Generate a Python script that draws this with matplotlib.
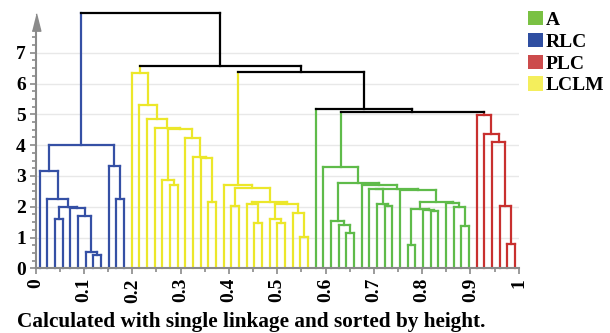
import numpy as np
import matplotlib
matplotlib.use("Agg")
import matplotlib.pyplot as plt
from matplotlib.patches import Patch

# cluster layout in leaf order (left to right)
cluster_names = ["RLC", "LCLM", "A", "PLC"]
cluster_sizes = [12, 24, 21, 6]
line_colors = {"RLC": "#3550a5", "LCLM": "#ece72a", "A": "#5fbb4a", "PLC": "#c8302f"}
legend_colors = {"A": "#7ac143", "RLC": "#2f4ea1", "PLC": "#cc4b4c", "LCLM": "#f4ee5c"}
legend_order = ["A", "RLC", "PLC", "LCLM"]

# merges: (node, left, right, height); ints are leaves, strings are nodes
rlc_merges = [
    ("r1", 7, 8, 0.42),
    ("r2", 6, "r1", 0.52),
    ("r3", 5, "r2", 1.70),
    ("r4", 2, 3, 1.60),
    ("r5", 4, "r3", 1.97),
    ("r6", "r4", "r5", 1.98),
    ("r7", 1, "r6", 2.24),
    ("r8", 0, "r7", 3.17),
    ("r9", 10, 11, 2.24),
    ("r10", 9, "r9", 3.32),
    ("RLC", "r8", "r10", 4.00),
]
lclm1_merges = [
    ("y1", 22, 23, 2.14),
    ("y2", 21, "y1", 3.59),
    ("y3", 20, "y2", 3.62),
    ("y4", 19, "y3", 4.24),
    ("y5", 17, 18, 2.70),
    ("y6", 16, "y5", 2.87),
    ("y7", "y6", "y4", 4.51),
    ("y8", 15, "y7", 4.56),
    ("y9", 14, "y8", 4.84),
    ("y10", 13, "y9", 5.30),
    ("LCLM1", 12, "y10", 6.33),
]
lclm2_merges = [
    ("z1", 25, 26, 2.02),
    ("z2", 28, 29, 1.46),
    ("z3", 27, "z2", 2.09),
    ("z4", 31, 32, 1.46),
    ("z5", 30, "z4", 1.59),
    ("z6", 34, 35, 1.03),
    ("z7", 33, "z6", 1.81),
    ("z8", "z5", "z7", 2.09),
    ("z9", "z3", "z8", 2.16),
    ("z10", "z1", "z9", 2.60),
    ("LCLM2", 24, "z10", 2.70),
]
a_merges = [
    ("g1", 40, 41, 1.14),
    ("g2", 39, "g1", 1.41),
    ("g3", 38, "g2", 1.54),
    ("g4", 45, 46, 2.03),
    ("g5", 44, "g4", 2.08),
    ("g6", 43, "g5", 2.56),
    ("g7", 48, 49, 0.76),
    ("g8", 51, 52, 1.86),
    ("g9", 50, "g8", 1.90),
    ("g10", "g7", "g9", 1.94),
    ("g11", 55, 56, 1.36),
    ("g12", 54, "g11", 2.00),
    ("g13", 53, "g12", 2.13),
    ("g14", "g10", "g13", 2.14),
    ("g15", 47, "g14", 2.55),
    ("g16", "g6", "g15", 2.58),
    ("g17", 42, "g16", 2.70),
    ("g18", "g3", "g17", 2.76),
    ("A_rest", 37, "g18", 3.28),
]
plc_merges = [
    ("p1", 61, 62, 0.78),
    ("p2", 60, "p1", 2.02),
    ("p3", 59, "p2", 4.09),
    ("p4", 58, "p3", 4.35),
    ("PLC", 57, "p4", 4.98),
]
top_merges = [
    ("t1", "A_rest", "PLC", 5.06),
    ("t2", 36, "t1", 5.16),
    ("t3", "LCLM2", "t2", 6.36),
    ("t4", "LCLM1", "t3", 6.57),
    ("root", "RLC", "t4", 8.30),
]
all_merges = rlc_merges + lclm1_merges + lclm2_merges + a_merges + plc_merges + top_merges

caption = "Calculated with single linkage and sorted by height."

plt.rcParams["font.family"] = ["Liberation Serif", "DejaVu Serif"]
plt.rcParams["font.weight"] = "bold"

axis_gray = "#8a8a8a"
lw = 1.6

fig = plt.figure(figsize=(6.1, 3.33), dpi=100)
ax = fig.add_axes([35.7 / 610, 1 - 268.3 / 333, 483 / 610, 8.55 * 30.8 / 333])

n_leaves = sum(cluster_sizes)
leaf_x = (np.arange(n_leaves) + 0.5) / n_leaves
leaf_cluster = np.repeat(cluster_names, cluster_sizes)

pos, hgt, col, members = {}, {}, {}, {}
for i in range(n_leaves):
    pos[i] = leaf_x[i]
    hgt[i] = 0.0
    members[i] = {leaf_cluster[i]}
    col[i] = line_colors[leaf_cluster[i]]

for name, a, b, h in all_merges:
    pos[name] = (pos[a] + pos[b]) / 2
    hgt[name] = h
    members[name] = members[a] | members[b]
    c = line_colors[next(iter(members[name]))] if len(members[name]) == 1 else "black"
    col[name] = c
    for k in (a, b):
        ax.plot([pos[k], pos[k]], [hgt[k], h], color=col[k], lw=lw,
                solid_capstyle="projecting", zorder=3, clip_on=False)
    ax.plot([pos[a], pos[b]], [h, h], color=c, lw=lw,
            solid_capstyle="projecting", zorder=3, clip_on=False)

ax.set_xlim(0, 1)
ax.set_ylim(0, 8.55)

for s in ["top", "right"]:
    ax.spines[s].set_visible(False)
for s in ["left", "bottom"]:
    ax.spines[s].set_color(axis_gray)
    ax.spines[s].set_linewidth(1.5)
    ax.spines[s].set_zorder(4)
ax.spines["left"].set_bounds(0, 8.0)

# arrow head on top of the y axis
ax.plot([0], [8.0], marker=[(-1, -2), (1, -2), (0, 2)], markersize=12.5,
        color=axis_gray, clip_on=False, zorder=5)

ax.set_yticks(range(8))
ax.set_yticks(np.arange(0, 7.51, 0.25), minor=True)
ax.set_xticks(np.arange(0, 1.001, 0.1))
ax.set_xticks(np.arange(0, 1.001, 0.05), minor=True)
ax.set_xticklabels(["0", "0.1", "0.2", "0.3", "0.4", "0.5", "0.6", "0.7", "0.8", "0.9", "1"],
                   rotation=90)
ax.tick_params(which="both", direction="out", color=axis_gray, width=1.2)
ax.tick_params(which="major", length=4, labelsize=14, pad=3)
ax.tick_params(which="minor", length=3)
ax.yaxis.grid(True, which="major", color="#e8e8e8", lw=1)
ax.set_axisbelow(True)

handles = [Patch(facecolor=legend_colors[k], edgecolor="none", label=k) for k in legend_order]
fig.legend(handles=handles, loc="upper left", bbox_to_anchor=(0.853, 0.99),
           frameon=False, handlelength=0.75, handleheight=0.75, handletextpad=0.15,
           labelspacing=0.2, borderaxespad=0, prop={"size": 14, "weight": "bold"})

fig.text(0.028, 0.018, caption, fontsize=15.3, fontweight="bold", ha="left", va="baseline")

fig.savefig("out.png", dpi=100)
